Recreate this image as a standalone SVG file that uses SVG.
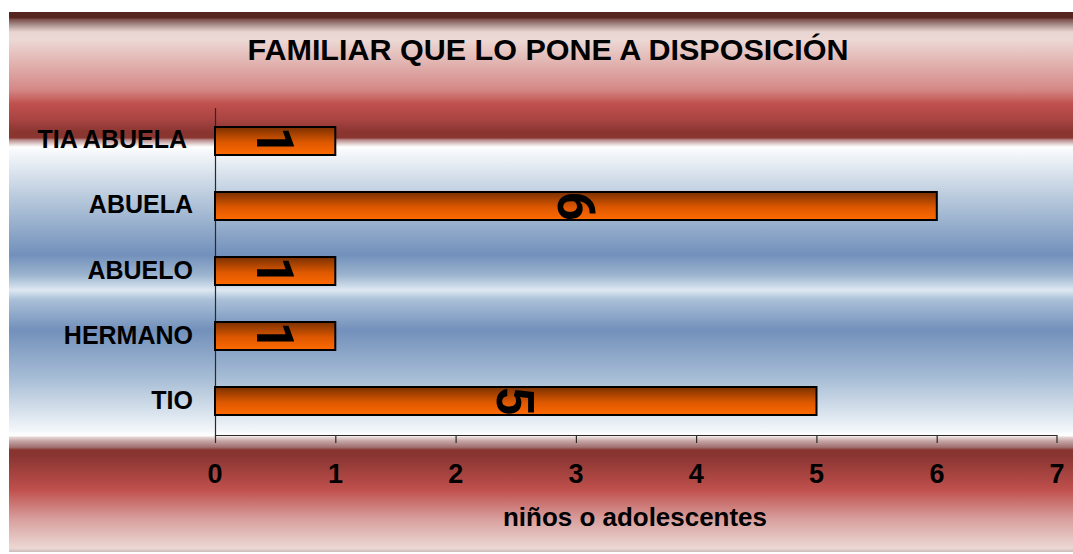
<svg xmlns="http://www.w3.org/2000/svg" width="1073" height="554" viewBox="0 0 1073 554">
<defs>
<linearGradient id="bg" gradientUnits="userSpaceOnUse" x1="0" y1="12" x2="0" y2="552">
<stop offset="0" stop-color="#55261f"/>
<stop offset="0.011" stop-color="#55261f"/>
<stop offset="0.013" stop-color="#7a4a45"/>
<stop offset="0.022" stop-color="#a08582"/>
<stop offset="0.030" stop-color="#c8b2ae"/>
<stop offset="0.037" stop-color="#e8d4d0"/>
<stop offset="0.052" stop-color="#ecd8d4"/>
<stop offset="0.144" stop-color="#d48886"/>
<stop offset="0.17" stop-color="#c0504d"/>
<stop offset="0.20" stop-color="#a84442"/>
<stop offset="0.222" stop-color="#8a3530"/>
<stop offset="0.233" stop-color="#8a3530"/>
<stop offset="0.237" stop-color="#b88c8a"/>
<stop offset="0.245" stop-color="#e6d6d6"/>
<stop offset="0.250" stop-color="#ffffff"/>
<stop offset="0.256" stop-color="#f8fafc"/>
<stop offset="0.35" stop-color="#b4c6da"/>
<stop offset="0.45" stop-color="#7290bb"/>
<stop offset="0.487" stop-color="#9cb4cf"/>
<stop offset="0.515" stop-color="#dde8f2"/>
<stop offset="0.533" stop-color="#aac0d8"/>
<stop offset="0.589" stop-color="#7290bb"/>
<stop offset="0.68" stop-color="#a8bed6"/>
<stop offset="0.774" stop-color="#f2f6f9"/>
<stop offset="0.785" stop-color="#ffffff"/>
<stop offset="0.787" stop-color="#e8d8d8"/>
<stop offset="0.794" stop-color="#c8a8a8"/>
<stop offset="0.806" stop-color="#a07070"/>
<stop offset="0.811" stop-color="#883430"/>
<stop offset="0.820" stop-color="#883430"/>
<stop offset="0.885" stop-color="#c0504d"/>
<stop offset="0.94" stop-color="#d8a09e"/>
<stop offset="0.993" stop-color="#ecd8d4"/>
<stop offset="1" stop-color="#c8bcbc"/>
</linearGradient>
<linearGradient id="bar" x1="0" y1="0" x2="0" y2="1">
<stop offset="0" stop-color="#7a3000"/>
<stop offset="0.55" stop-color="#dd5800"/>
<stop offset="1" stop-color="#ff6a00"/>
</linearGradient>
<style>
.t{font-family:"Liberation Sans",Arial,sans-serif;font-weight:bold;fill:#000}
.cat{font-size:25px;text-anchor:end}
.tick{font-size:27px;text-anchor:middle}
.val{font-family:Roboto,"Liberation Sans",sans-serif;font-size:51px;text-anchor:middle}
.bar{fill:url(#bar);stroke:#000;stroke-width:2}
.ax{stroke:#2a2a2a;stroke-width:1.2;fill:none}
</style>
</defs>
<rect x="0" y="0" width="1073" height="554" fill="#ffffff"/>
<rect x="9" y="12" width="1064" height="540" fill="url(#bg)"/>
<text class="t" x="548" y="60" font-size="30" text-anchor="middle" textLength="601" lengthAdjust="spacingAndGlyphs">FAMILIAR QUE LO PONE A DISPOSICIÓN</text>
<g id="axes">
<path class="ax" d="M215.5 108V435.5H1057"/>
<path class="ax" d="M215.5 435V443M335.8 435V443M456.1 435V443M576.4 435V443M696.6 435V443M816.9 435V443M937.2 435V443M1057 435V443"/>
<text class="t tick" x="215" y="483">0</text>
<text class="t tick" x="335.5" y="483">1</text>
<text class="t tick" x="455.8" y="483">2</text>
<text class="t tick" x="576" y="483">3</text>
<text class="t tick" x="696.3" y="483">4</text>
<text class="t tick" x="816.6" y="483">5</text>
<text class="t tick" x="936.9" y="483">6</text>
<text class="t tick" x="1057" y="483">7</text>
<text class="t" x="635" y="526" font-size="26" text-anchor="middle" textLength="264" lengthAdjust="spacingAndGlyphs">niños o adolescentes</text>
</g>
<g id="tia-abuela">
<text class="t cat" x="187" y="148">TIA ABUELA</text>
<rect class="bar" x="215" y="127" width="120.3" height="28"/>
<text class="t val" transform="translate(257,141) rotate(90)">1</text>
</g>
<g id="abuela">
<text class="t cat" x="193" y="213">ABUELA</text>
<rect class="bar" x="215" y="192" width="721.8" height="28"/>
<text class="t val" transform="translate(558,206) rotate(90)">6</text>
</g>
<g id="abuelo">
<text class="t cat" x="193" y="279">ABUELO</text>
<rect class="bar" x="215" y="257" width="120.3" height="28"/>
<text class="t val" transform="translate(257,271) rotate(90)">1</text>
</g>
<g id="hermano">
<text class="t cat" x="193" y="344">HERMANO</text>
<rect class="bar" x="215" y="322" width="120.3" height="28"/>
<text class="t val" transform="translate(257,336) rotate(90)">1</text>
</g>
<g id="tio">
<text class="t cat" x="193" y="409">TIO</text>
<rect class="bar" x="215" y="387" width="601.5" height="28"/>
<text class="t val" transform="translate(497,401) rotate(90)">5</text>
</g>
</svg>
